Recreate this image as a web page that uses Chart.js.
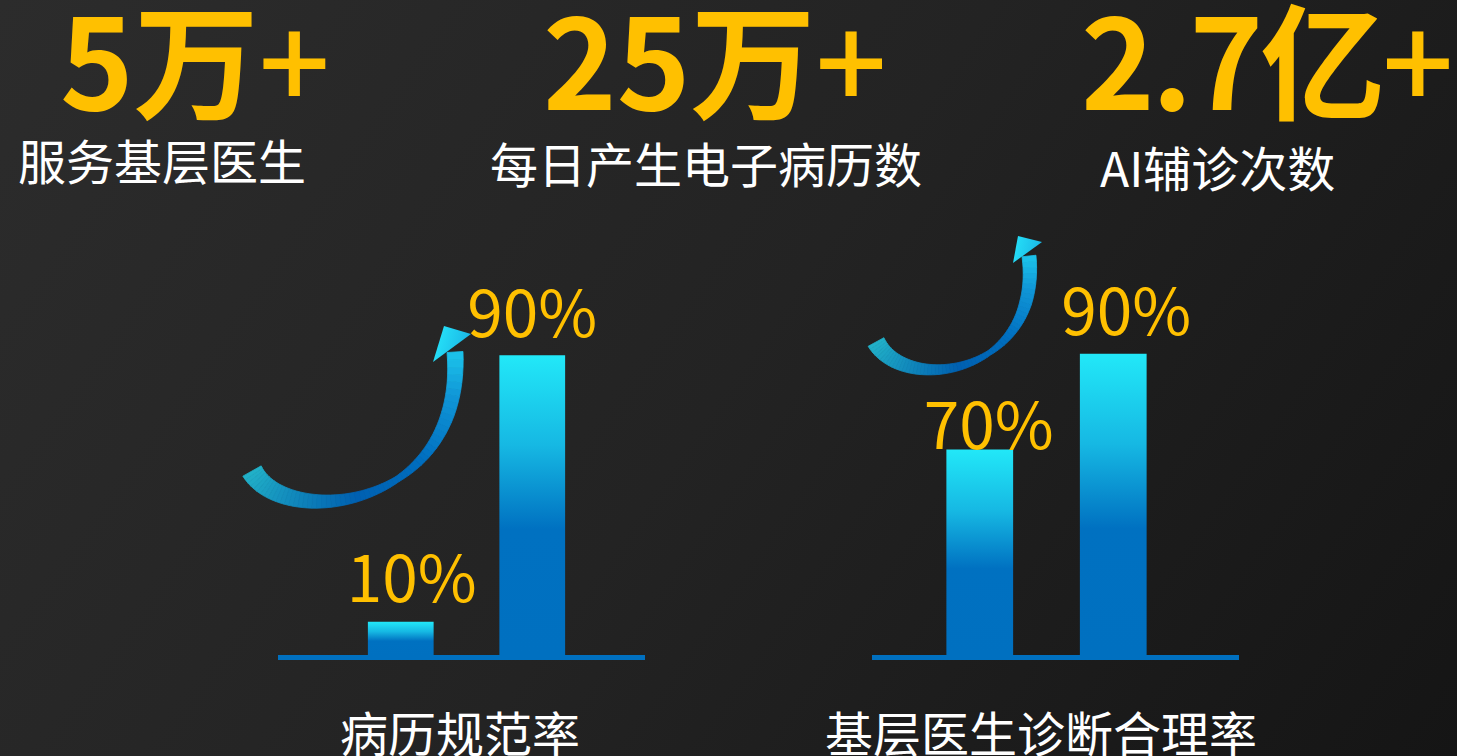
<!DOCTYPE html>
<html lang="zh-CN">
<head>
<meta charset="utf-8">
<title>基层医生 AI 辅诊成效</title>
<script src="https://cdn.jsdelivr.net/npm/chart.js@4.4.1/dist/chart.umd.min.js"></script>
<style>
  html, body { margin: 0; padding: 0; }
  body {
    width: 1457px;
    height: 756px;
    overflow: hidden;
    position: relative;
    background: linear-gradient(125deg, #2c2c2c 0%, #232323 50%, #151515 100%);
    font-family: "Noto Sans CJK SC", "Noto Sans", sans-serif;
  }
  .num {
    position: absolute;
    color: #ffc000;
    font-size: 125px;
    font-weight: 700;
    line-height: 1;
    white-space: nowrap;
  }
  .num .plus { font-weight: 500; }
  .lbl {
    position: absolute;
    color: #ffffff;
    font-size: 48px;
    line-height: 1;
    white-space: nowrap;
  }
  .box { position: absolute; }
</style>
</head>
<body>

<div class="box" style="left:230px; top:230px; width:415px; height:440px;">
  <canvas id="chart-record" width="415" height="440"></canvas>
</div>
<div class="box" style="left:860px; top:225px; width:379px; height:445px;">
  <canvas id="chart-diagnosis" width="379" height="445"></canvas>
</div>

<script>
// top numbers
const statValues = ["5", "25", "2.7"];
const statUnits = ["万", "万", "亿"];
const statLabels = ["服务基层医生", "每日产生电子病历数", "AI辅诊次数"];

// two small bar charts
const barCategories = ["改进前", "改进后"];
const recordRates = [10, 90];      // 病历规范率
const diagnosisRates = [70, 90];   // 基层医生诊断合理率
const chartTitles = ["病历规范率", "基层医生诊断合理率"];

// layout of the html text
const numPos = [[60, -7, 0], [543, -7, 0], [1081, -7, -3]];
const lblPos = [[18, 135], [490, 138], [1100, 142]];
const titlePos = [[340, 707], [825, 707]];

statValues.forEach((v, i) => {
  const n = document.createElement("div");
  n.className = "num";
  n.textContent = v + statUnits[i];
  const plus = document.createElement("span");
  plus.className = "plus";
  plus.textContent = "+";
  n.appendChild(plus);
  n.style.left = numPos[i][0] + "px";
  n.style.top = numPos[i][1] + "px";
  n.style.letterSpacing = numPos[i][2] + "px";
  document.body.appendChild(n);

  const l = document.createElement("div");
  l.className = "lbl";
  l.textContent = statLabels[i];
  l.style.left = lblPos[i][0] + "px";
  l.style.top = lblPos[i][1] + "px";
  document.body.appendChild(l);
});

chartTitles.forEach((t, i) => {
  const d = document.createElement("div");
  d.className = "lbl";
  d.textContent = t;
  d.style.left = titlePos[i][0] + "px";
  d.style.top = titlePos[i][1] + "px";
  document.body.appendChild(d);
});

// gradient fill of each bar, from its own top down to the axis
const barGradient = (ctx) => {
  const chart = ctx.chart;
  const { chartArea, scales } = chart;
  if (!chartArea || ctx.type !== "data") return "#0070c0";
  const top = scales.y.getPixelForValue(ctx.raw);
  const bottom = chartArea.bottom;
  const g = chart.ctx.createLinearGradient(0, top, 0, bottom);
  g.addColorStop(0, "#22e8f8");
  g.addColorStop(0.3, "#16b8e3");
  g.addColorStop(0.58, "#0071c1");
  g.addColorStop(1, "#0070c0");
  return g;
};

// blue base line, wider than the bars
const baseLine = {
  id: "baseLine",
  beforeDatasetsDraw(chart, args, opts) {
    const { ctx, chartArea } = chart;
    ctx.save();
    ctx.strokeStyle = "#0070c0";
    ctx.lineWidth = 5;
    ctx.beginPath();
    ctx.moveTo(opts.from, chartArea.bottom + 2.5);
    ctx.lineTo(chart.width, chartArea.bottom + 2.5);
    ctx.stroke();
    ctx.restore();
  },
};

// yellow percentage above bars
const valueLabels = {
  id: "valueLabels",
  afterDatasetsDraw(chart, args, opts) {
    const { ctx } = chart;
    const meta = chart.getDatasetMeta(0);
    const data = chart.data.datasets[0].data;
    ctx.save();
    ctx.fillStyle = "#ffc000";
    ctx.font = '400 64px "Noto Sans CJK SC", "Noto Sans", sans-serif';
    ctx.textAlign = "center";
    ctx.textBaseline = "alphabetic";
    meta.data.forEach((bar, i) => {
      ctx.fillText(data[i] + "%", bar.x + opts.dx[i], bar.y - opts.dy[i]);
    });
    ctx.restore();
  },
};

// curved arrow decoration (page coordinates, shifted to canvas)
function bez(p, t) {
  const u = 1 - t;
  const a = u * u * u, b = 3 * u * u * t, c = 3 * u * t * t, d = t * t * t;
  return [a * p[0][0] + b * p[1][0] + c * p[2][0] + d * p[3][0],
          a * p[0][1] + b * p[1][1] + c * p[2][1] + d * p[3][1]];
}
function bezTan(p, t) {
  const u = 1 - t;
  const x = 3 * u * u * (p[1][0] - p[0][0]) + 6 * u * t * (p[2][0] - p[1][0]) + 3 * t * t * (p[3][0] - p[2][0]);
  const y = 3 * u * u * (p[1][1] - p[0][1]) + 6 * u * t * (p[2][1] - p[1][1]) + 3 * t * t * (p[3][1] - p[2][1]);
  const len = Math.hypot(x, y) || 1;
  return [x / len, y / len];
}
function interp(stops, t) {
  for (let i = 1; i < stops.length; i++) {
    if (t <= stops[i][0]) {
      const s0 = stops[i - 1], s1 = stops[i];
      const k = (t - s0[0]) / (s1[0] - s0[0]);
      return s0[1].map((v, j) => v + (s1[1][j] - v) * k);
    }
  }
  return stops[stops.length - 1][1];
}
const arrowColors = [
  [0, [34, 178, 200]],
  [0.45, [0, 96, 176]],
  [0.7, [0, 110, 192]],
  [0.9, [16, 150, 215]],
  [1, [28, 196, 235]],
];

const arrowDecor = {
  id: "arrowDecor",
  afterDraw(chart, args, opts) {
    const { ctx } = chart;
    const [ox, oy] = opts.origin;
    const p = opts.curve.map(([x, y]) => [x - ox, y - oy]);
    const N = 60;
    ctx.save();
    for (let i = 0; i < N; i++) {
      const t0 = i / N, t1 = (i + 1) / N;
      const a = bez(p, t0), b = bez(p, t1);
      const na = bezTan(p, t0), nb = bezTan(p, t1);
      const wa = interp(opts.widths, t0)[0] / 2, wb = interp(opts.widths, t1)[0] / 2;
      const col = interp(arrowColors, (t0 + t1) / 2).map(Math.round);
      const c = "rgb(" + col.join(",") + ")";
      ctx.fillStyle = c;
      ctx.strokeStyle = c;
      ctx.lineWidth = 0.8;
      ctx.beginPath();
      ctx.moveTo(a[0] - na[1] * wa, a[1] + na[0] * wa);
      ctx.lineTo(b[0] - nb[1] * wb, b[1] + nb[0] * wb);
      ctx.lineTo(b[0] + nb[1] * wb, b[1] - nb[0] * wb);
      ctx.lineTo(a[0] + na[1] * wa, a[1] - na[0] * wa);
      ctx.closePath();
      ctx.fill();
      ctx.stroke();
    }
    const h = opts.head.map(([x, y]) => [x - ox, y - oy]);
    const g = ctx.createLinearGradient(h[1][0], h[1][1], h[0][0], h[0][1]);
    g.addColorStop(0, "#1bb8e6");
    g.addColorStop(1, "#24dcf6");
    ctx.fillStyle = g;
    ctx.beginPath();
    ctx.moveTo(h[0][0], h[0][1]);
    ctx.lineTo(h[1][0], h[1][1]);
    ctx.lineTo(h[2][0], h[2][1]);
    ctx.closePath();
    ctx.fill();
    ctx.restore();
  },
};

const makeChart = (id, values, cfg) => {
  const ctx = document.getElementById(id);
  return new Chart(ctx, {
    type: "bar",
    data: {
      labels: barCategories,
      datasets: [
        {
          data: values,
          backgroundColor: barGradient,
          borderWidth: 0,
          barPercentage: 0.5,
          categoryPercentage: 1,
        },
      ],
    },
    options: {
      responsive: false,
      animation: false,
      layout: { padding: cfg.padding },
      plugins: {
        legend: { display: false },
        tooltip: { enabled: false },
        baseLine: { from: cfg.lineFrom },
        valueLabels: { dx: cfg.dx, dy: cfg.dy },
        arrowDecor: cfg.arrow,
      },
      scales: {
        x: { display: false },
        y: { display: false, min: cfg.yMin, max: 100 },
      },
    },
    plugins: [baseLine, valueLabels, arrowDecor],
  });
};

makeChart("chart-record", recordRates, {
  padding: { left: 105, right: 47, top: 92, bottom: 15 },
  lineFrom: 48,
  yMin: 0,
  dx: [11, 0],
  dy: [20, 18],
  arrow: {
    origin: [230, 230],
    curve: [[252, 471], [285, 530], [465, 510], [455, 352]],
    widths: [[0, [21]], [0.3, [14]], [0.6, [6]], [0.85, [13]], [1, [16]]],
    head: [[444, 326], [471, 334], [433, 362]],
  },
});

makeChart("chart-diagnosis", diagnosisRates, {
  padding: { left: 53, right: 59, top: 81, bottom: 15 },
  lineFrom: 12,
  yMin: 27,
  dx: [9, 13],
  dy: [0, 19],
  arrow: {
    origin: [860, 225],
    curve: [[876, 342], [905, 395], [1042, 375], [1029, 256]],
    widths: [[0, [18]], [0.3, [11]], [0.6, [5]], [0.85, [12]], [1, [14]]],
    head: [[1018, 236], [1042, 242], [1013, 263]],
  },
});
</script>
</body>
</html>
